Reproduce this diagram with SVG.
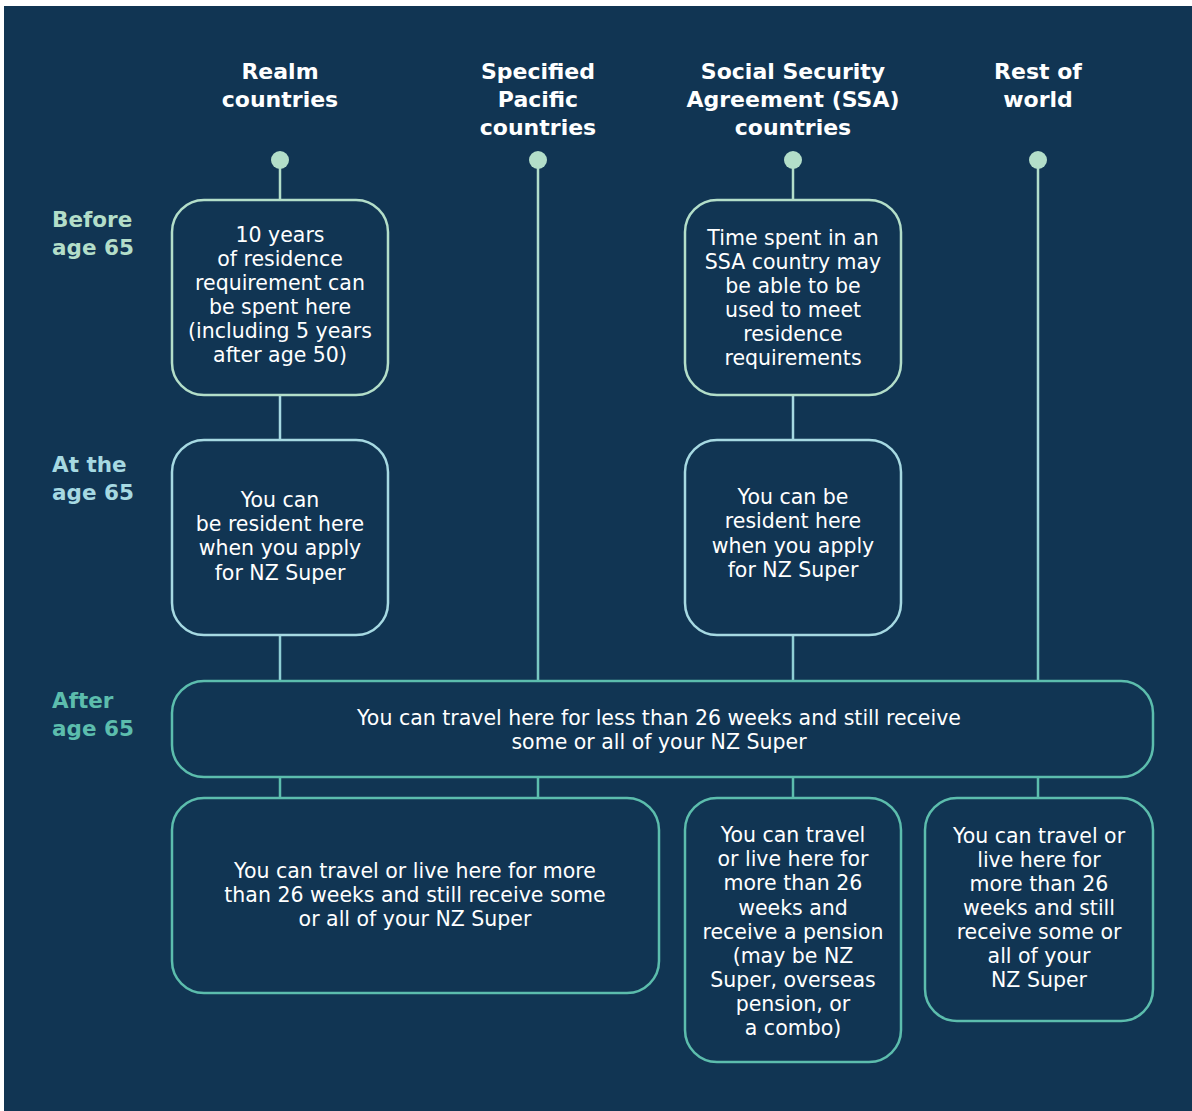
<svg xmlns="http://www.w3.org/2000/svg" width="1192" height="1111" viewBox="0 0 1192 1111">
<defs>
<linearGradient id="lineGrad" gradientUnits="userSpaceOnUse" x1="0" y1="160" x2="0" y2="800">
<stop offset="0" stop-color="#b3dec9"/>
<stop offset="0.5" stop-color="#a6d9e2"/>
<stop offset="1" stop-color="#5cbdad"/>
</linearGradient>
<style>
.bg{fill:#113553}
.hdr{font-family:"DejaVu Sans","Open Sans",sans-serif;font-weight:700;font-size:22px;fill:#ffffff;text-anchor:middle}
.lbl{font-family:"DejaVu Sans","Open Sans",sans-serif;font-weight:700;font-size:21.5px}
.body{font-family:"DejaVu Sans","Open Sans",sans-serif;font-size:20.5px;fill:#ffffff;text-anchor:middle}
.box{fill:#113553;stroke-width:2.5}
.mint{stroke:#b3dec9}
.blue{stroke:#a6d9e2}
.teal{stroke:#5cbdad}
.con{fill:none;stroke-width:2.5}
</style>
</defs>
<rect x="0" y="0" width="1192" height="1111" fill="#ffffff"/>
<rect class="bg" x="4" y="6" width="1188" height="1105"/>

<g id="headers">
<text class="hdr" x="280" y="79">Realm</text>
<text class="hdr" x="280" y="107">countries</text>
<text class="hdr" x="538" y="79">Specified</text>
<text class="hdr" x="538" y="107">Pacific</text>
<text class="hdr" x="538" y="135">countries</text>
<text class="hdr" x="793" y="79">Social Security</text>
<text class="hdr" x="793" y="107">Agreement (SSA)</text>
<text class="hdr" x="793" y="135">countries</text>
<text class="hdr" x="1038" y="79">Rest of</text>
<text class="hdr" x="1038" y="107">world</text>
</g>

<g id="stage-labels">
<text class="lbl" fill="#b3dec9" x="52" y="227">Before</text>
<text class="lbl" fill="#b3dec9" x="52" y="255">age 65</text>
<text class="lbl" fill="#a6d9e2" x="52" y="472">At the</text>
<text class="lbl" fill="#a6d9e2" x="52" y="500">age 65</text>
<text class="lbl" fill="#5cbdad" x="52" y="708">After</text>
<text class="lbl" fill="#5cbdad" x="52" y="736">age 65</text>
</g>

<g id="connectors">
<line class="con mint" x1="280" y1="160" x2="280" y2="200"/>
<line class="con blue" x1="280" y1="395" x2="280" y2="440"/>
<line class="con" stroke="#8fcfd4" x1="280" y1="635" x2="280" y2="681"/>
<line class="con teal" x1="280" y1="777" x2="280" y2="798"/>
<line class="con" stroke="url(#lineGrad)" x1="538" y1="160" x2="538" y2="681"/>
<line class="con teal" x1="538" y1="777" x2="538" y2="798"/>
<line class="con mint" x1="793" y1="160" x2="793" y2="200"/>
<line class="con blue" x1="793" y1="395" x2="793" y2="440"/>
<line class="con" stroke="#8fcfd4" x1="793" y1="635" x2="793" y2="681"/>
<line class="con teal" x1="793" y1="777" x2="793" y2="798"/>
<line class="con" stroke="url(#lineGrad)" x1="1038" y1="160" x2="1038" y2="681"/>
<line class="con teal" x1="1038" y1="777" x2="1038" y2="798"/>
<circle cx="280" cy="160" r="9" fill="#b3dec9"/>
<circle cx="538" cy="160" r="9" fill="#b3dec9"/>
<circle cx="793" cy="160" r="9" fill="#b3dec9"/>
<circle cx="1038" cy="160" r="9" fill="#b3dec9"/>
</g>

<g id="realm-before">
<rect class="box mint" x="172" y="200" width="216" height="195" rx="32"/>
<text class="body" x="280" y="242">10 years</text>
<text class="body" x="280" y="266">of residence</text>
<text class="body" x="280" y="290">requirement can</text>
<text class="body" x="280" y="314">be spent here</text>
<text class="body" x="280" y="338">(including 5 years</text>
<text class="body" x="280" y="362">after age 50)</text>
</g>

<g id="ssa-before">
<rect class="box mint" x="685" y="200" width="216" height="195" rx="32"/>
<text class="body" x="793" y="245">Time spent in an</text>
<text class="body" x="793" y="269">SSA country may</text>
<text class="body" x="793" y="293">be able to be</text>
<text class="body" x="793" y="317">used to meet</text>
<text class="body" x="793" y="341">residence</text>
<text class="body" x="793" y="365">requirements</text>
</g>

<g id="realm-at">
<rect class="box blue" x="172" y="440" width="216" height="195" rx="32"/>
<text class="body" x="280" y="507">You can</text>
<text class="body" x="280" y="531">be resident here</text>
<text class="body" x="280" y="555">when you apply</text>
<text class="body" x="280" y="580">for NZ Super</text>
</g>

<g id="ssa-at">
<rect class="box blue" x="685" y="440" width="216" height="195" rx="32"/>
<text class="body" x="793" y="504">You can be</text>
<text class="body" x="793" y="528">resident here</text>
<text class="body" x="793" y="553">when you apply</text>
<text class="body" x="793" y="577">for NZ Super</text>
</g>

<g id="after-short">
<rect class="box teal" x="172" y="681" width="981" height="96" rx="32"/>
<text class="body" x="659" y="725">You can travel here for less than 26 weeks and still receive</text>
<text class="body" x="659" y="749">some or all of your NZ Super</text>
</g>

<g id="realm-pacific-long">
<rect class="box teal" x="172" y="798" width="487" height="195" rx="32"/>
<text class="body" x="415" y="878">You can travel or live here for more</text>
<text class="body" x="415" y="902">than 26 weeks and still receive some</text>
<text class="body" x="415" y="926">or all of your NZ Super</text>
</g>

<g id="ssa-long">
<rect class="box teal" x="685" y="798" width="216" height="264" rx="32"/>
<text class="body" x="793" y="842">You can travel</text>
<text class="body" x="793" y="866">or live here for</text>
<text class="body" x="793" y="890">more than 26</text>
<text class="body" x="793" y="915">weeks and</text>
<text class="body" x="793" y="939">receive a pension</text>
<text class="body" x="793" y="963">(may be NZ</text>
<text class="body" x="793" y="987">Super, overseas</text>
<text class="body" x="793" y="1011">pension, or</text>
<text class="body" x="793" y="1035">a combo)</text>
</g>

<g id="rest-long">
<rect class="box teal" x="925" y="798" width="228" height="223" rx="32"/>
<text class="body" x="1039" y="843">You can travel or</text>
<text class="body" x="1039" y="867">live here for</text>
<text class="body" x="1039" y="891">more than 26</text>
<text class="body" x="1039" y="915">weeks and still</text>
<text class="body" x="1039" y="939">receive some or</text>
<text class="body" x="1039" y="963">all of your</text>
<text class="body" x="1039" y="987">NZ Super</text>
</g>
</svg>
